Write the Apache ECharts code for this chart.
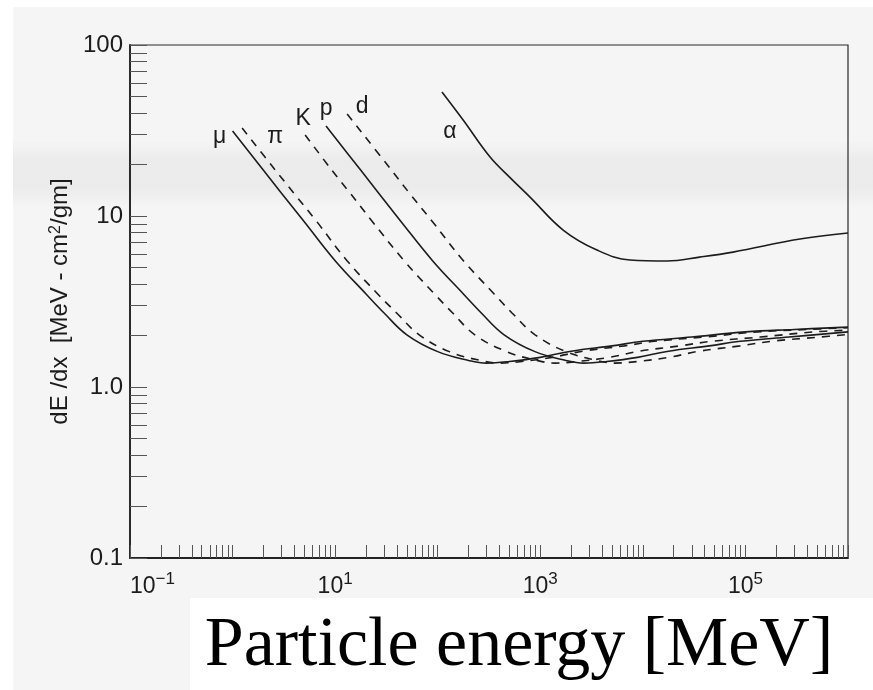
<!DOCTYPE html>
<html>
<head>
<meta charset="UTF-8">
<title>dE/dx - particle energy</title>
<style>
	* { margin: 0; padding: 0; }
	body { background: #fff; }
	#chart { width: 873px; height: 690px; }
</style>
</head>
<body>
<div id="chart"></div>
<script src="https://cdn.jsdelivr.net/npm/echarts@6/dist/echarts.min.js"></script>
<script>
	// kinetic energy [MeV] and dE/dx [MeV cm2/gm]
	var muE = [1, 2, 3, 5, 10, 20, 30, 50, 100, 200, 300, 500, 1000, 2000, 5000, 1e4, 3e4, 1e5, 3e5, 1e6];
	var muY = [31.4, 18.5, 13.6, 9.26, 5.48, 3.50, 2.71, 2.02, 1.61, 1.43, 1.38, 1.41, 1.49, 1.62, 1.74, 1.85, 1.96, 2.10, 2.17, 2.24];

	var piE = [1.24, 2.6, 4, 6.6, 13, 26, 40, 66, 130, 260, 400, 660, 1300, 2600, 6600, 13000, 40000, 130000, 400000, 1e6];
	var piY = [32.7, 18.6, 13.5, 9.3, 5.5, 3.5, 2.7, 2.02, 1.61, 1.43, 1.38, 1.41, 1.49, 1.62, 1.74, 1.85, 1.96, 2.10, 2.17, 2.22];

	var kE = [5.1, 9.3, 14, 23, 47, 93, 140, 230, 470, 930, 1400, 2300, 4700, 9300, 23000, 47000, 140000, 470000, 1e6];
	var kY = [29.8, 18.5, 13.6, 9.3, 5.48, 3.50, 2.71, 2.02, 1.61, 1.43, 1.38, 1.41, 1.49, 1.62, 1.74, 1.85, 1.96, 2.10, 2.15];

	var pE = [8.15, 17.8, 26.6, 44, 89, 178, 266, 444, 888, 1780, 2660, 4440, 8880, 17800, 44400, 88800, 266000, 1e6];
	var pY = [33.6, 18.5, 13.6, 9.26, 5.48, 3.50, 2.71, 2.02, 1.61, 1.43, 1.38, 1.41, 1.49, 1.62, 1.74, 1.85, 1.96, 2.10];

	var dE = [13.1, 35.5, 53, 89, 178, 355, 530, 890, 1780, 3550, 5300, 8900, 17800, 35500, 89000, 178000, 530000, 1e6];
	var dY = [39.5, 18.5, 13.6, 9.26, 5.48, 3.50, 2.71, 2.02, 1.61, 1.43, 1.38, 1.41, 1.49, 1.62, 1.74, 1.85, 1.96, 2.03];

	var alphaE = [110, 177, 324, 510, 794, 1670, 3570, 7500, 17200, 35800, 75700, 340000, 1e6];
	var alphaY = [53.1, 36.4, 22.1, 16.7, 12.9, 8.28, 6.32, 5.53, 5.46, 5.75, 6.15, 7.33, 7.95];

	// axis labels (powers of ten) and tick mantissas
	var xLabelExp = [-1, 1, 3, 5];
	var yLabelExp = [-1, 0, 1, 2];
	var yLabelText = ['0.1', '1.0', '10', '100'];
	var tickMantissa = [1, 2, 3, 4, 5, 6, 7, 8, 9];

	var font = '"Liberation Sans", Arial, sans-serif';
	var ink = '#1c1c1c';

	// tick positions in log10 space, for the helper value axes
	function logTicks(from, to) {
		var out = [];
		for (var k = from; k < to; k++) {
			for (var i = 0; i < tickMantissa.length; i++) {
				out.push(k + Math.log10(tickMantissa[i]));
			}
		}
		out.push(to);
		return out;
	}

	function curve(name, xs, ys, dashed, off) {
		return {
			name: name,
			type: 'line',
			xAxisIndex: 0,
			yAxisIndex: 0,
			data: xs.map(function (x, i) { return [x, ys[i]]; }),
			showSymbol: false,
			smooth: 0.4,
			silent: true,
			lineStyle: { color: ink, width: 1.6, type: dashed ? [8, 7] : 'solid' },
			markPoint: {
				symbol: 'rect',
				symbolSize: 1,
				itemStyle: { color: 'transparent' },
				label: { show: true, formatter: name, offset: off, color: ink, fontSize: 23, fontFamily: font },
				data: [{ coord: [xs[0], ys[0]] }]
			}
		};
	}

	var chart = echarts.init(document.getElementById('chart'));

	var option = {
		animation: false,
		backgroundColor: '#fff',
		grid: { left: 130, right: 25, top: 45, bottom: 132, show: true, borderColor: '#2a2a2a', borderWidth: 1.2 },
		xAxis: [
			{ type: 'log', logBase: 10, min: 0.1, max: 1e6, show: false },
			{
				type: 'value', min: -1, max: 6, position: 'bottom',
				axisLine: { show: true, lineStyle: { color: '#222', width: 1.8 } },
				splitLine: { show: false },
				axisTick: { inside: true, length: 13, customValues: logTicks(-1, 6), lineStyle: { color: '#555', width: 1 } },
				axisLabel: {
					customValues: xLabelExp,
					margin: 13,
					alignMinLabel: 'left',
					formatter: function (v) { return '{b|10}{s|' + (v < 0 ? '\u2212' + (-v) : v) + '}'; },
					rich: {
						b: { fontSize: 23, fontFamily: font, color: ink, lineHeight: 27, verticalAlign: 'bottom' },
						s: { fontSize: 17, fontFamily: font, color: ink, lineHeight: 15, verticalAlign: 'top' }
					}
				}
			}
		],
		yAxis: [
			{ type: 'log', logBase: 10, min: 0.1, max: 100, show: false },
			{
				type: 'value', min: -1, max: 2, position: 'left',
				name: 'dE /dx  [MeV - cm{s|2}/gm]',
				nameLocation: 'middle',
				nameGap: 46,
				nameTextStyle: {
					fontSize: 24, fontFamily: font, color: ink,
					rich: { s: { fontSize: 16, fontFamily: font, color: ink, verticalAlign: 'top', lineHeight: 14 } }
				},
				axisLine: { show: true, lineStyle: { color: '#222', width: 1.8 } },
				splitLine: { show: false },
				axisTick: { inside: true, length: 17, customValues: logTicks(-1, 2), lineStyle: { color: '#555', width: 1 } },
				axisLabel: {
					customValues: yLabelExp,
					margin: 7,
					fontSize: 24,
					fontFamily: font,
					color: ink,
					formatter: function (v) { return yLabelText[yLabelExp.indexOf(v)]; }
				}
			}
		],
		graphic: [
			{ type: 'rect', z: -10, shape: { x: 13, y: 7, width: 860, height: 683 }, style: { fill: '#f5f5f5' } },
			{
				type: 'rect', z: -9, shape: { x: 13, y: 140, width: 860, height: 68 },
				style: {
					fill: new echarts.graphic.LinearGradient(0, 0, 0, 1, [
						{ offset: 0, color: 'rgba(0,0,0,0)' },
						{ offset: 0.3, color: 'rgba(0,0,0,0.04)' },
						{ offset: 0.7, color: 'rgba(0,0,0,0.04)' },
						{ offset: 1, color: 'rgba(0,0,0,0)' }
					])
				}
			},
			{ type: 'rect', z: -8, shape: { x: 190, y: 598, width: 683, height: 92 }, style: { fill: '#fff' } },
			{
				type: 'text', z: 10, x: 519, y: 647,
				style: { text: 'Particle energy [MeV]', font: '70px "Liberation Serif", "Times New Roman", serif', fill: '#000', textAlign: 'center', textVerticalAlign: 'middle' }
			}
		],
		series: [
			curve('\u03bc', muE, muY, false, [-13, 6]),
			curve('\u03c0', piE, piY, true, [33, 9]),
			curve('K', kE, kY, true, [-2, -16]),
			curve('p', pE, pY, false, [0, -17]),
			curve('d', dE, dY, true, [15, -7]),
			curve('\u03b1', alphaE, alphaY, false, [8, 40])
		]
	};

	chart.setOption(option);
</script>
</body>
</html>
